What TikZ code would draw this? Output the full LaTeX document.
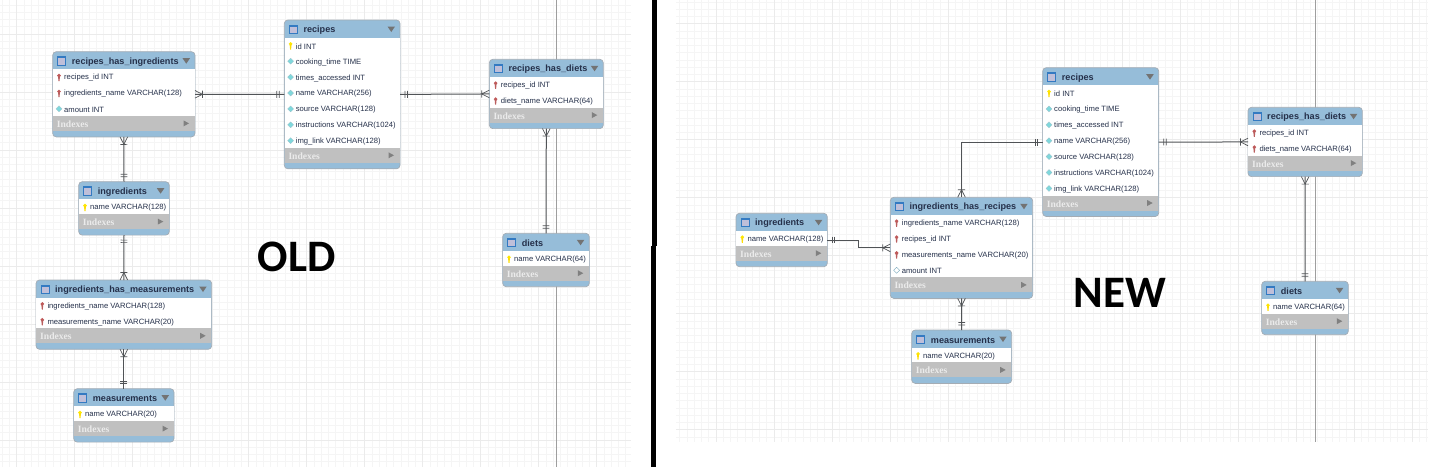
\documentclass[tikz,border=0pt]{standalone}
\usepackage{fontspec}
\setmainfont{Liberation Sans}
\newfontfamily\labelfont{Carlito}
\newfontfamily\idxfont{Liberation Serif}
\usetikzlibrary{decorations.markings}
\definecolor{tabblue}{HTML}{96BDD9}
\definecolor{tabgrey}{HTML}{C0C0C0}
\definecolor{tabedge}{HTML}{A4ACB4}
\definecolor{rowtext}{HTML}{25304A}
\definecolor{connline}{HTML}{505356}
\definecolor{colcyan}{HTML}{7FD8DC}
\tikzset{
 gridminor/.style={draw=black!4,line width=.7pt},
 gridmajor/.style={draw=black!8,line width=.8pt},
 tablebox/.style={draw=tabedge,fill=tabblue,rounded corners=3.5pt,inner sep=0,outer sep=0,anchor=north west,line width=.7pt},
 tabletitle/.style={inner sep=0,anchor=west,font=\bfseries\fontsize{9.1}{10}\selectfont,text=rowtext},
 tablerow/.style={inner sep=0,anchor=west,font=\fontsize{7.65}{10}\selectfont,text=rowtext},
 tableidx/.style={inner sep=0,anchor=west,font=\idxfont\bfseries\fontsize{9.6}{10}\selectfont,text=white!92!black},
 conn/.style={draw=connline,line width=1pt},
 tickmark/.style={draw=connline,line width=.7pt},
 onestart/.style={postaction={decorate,decoration={markings,
   mark=at position 5pt with {\draw[tickmark] (0,-3.4)--(0,3.4);},
   mark=at position 7.5pt with {\draw[tickmark] (0,-3.4)--(0,3.4);}}}},
 oneend/.style={postaction={decorate,decoration={markings,
   mark=at position -5pt with {\draw[tickmark] (0,-3.4)--(0,3.4);},
   mark=at position -7.5pt with {\draw[tickmark] (0,-3.4)--(0,3.4);}}}},
 manystart/.style={postaction={decorate,decoration={markings,
   mark=at position 7.5pt with {\draw[tickmark] (0,-3.6)--(0,3.6) (-7.5,-3.8)--(0,0)--(-7.5,3.8);}}}},
 manyend/.style={postaction={decorate,decoration={markings,
   mark=at position -7.5pt with {\draw[tickmark] (0,-3.6)--(0,3.6) (7.5,-3.8)--(0,0)--(7.5,3.8);}}}},
 pics/pk/.style={code={\fill[yellow!90!orange] (0,-2.4) circle (1.9); \fill[yellow!80!orange] (-1,-2)--(1,-2)--(.5,3.2)--(-.5,3.2)--cycle;}},
 pics/fk/.style={code={\fill[red!45!gray!90!white] (0,-2.4) circle (1.9); \fill[red!40!gray!90!white] (-1,-2)--(1,-2)--(.5,3.2)--(-.5,3.2)--cycle;}},
 pics/col/.style={code={\fill[colcyan,draw=cyan!30!gray!70!white,line width=.2pt] (-3,-1)--(0,-4)--(3,-1)--(0,2)--cycle;}},
 pics/nul/.style={code={\draw[cyan!40!gray,fill=white,line width=.4pt] (-3,-1)--(0,-4)--(3,-1)--(0,2)--cycle;}},
}
% name, x, y, width, rows, title, row list
\newcommand{\erdtable}[7]{
 \begin{scope}[shift={(#2,#3)}]
  \pgfmathsetmacro\tabh{37.5+15.9*#5}
  \pgfmathsetmacro\rowsend{16.5+15.9*#5}
  \node[tablebox,minimum width=#4pt,minimum height=\tabh pt] (#1) at (0,0) {};
  \fill[white] (.4,17.5) rectangle (#4-.4,\rowsend);
  \fill[tabgrey] (.4,\rowsend) rectangle (#4-.4,\rowsend+15);
  \fill[blue!50!cyan!70!black!80!white] (4.5,4.5) rectangle +(9,9.5);
  \fill[blue!12!white!85!black] (5.5,6.5) rectangle +(7,6.5);
  \node[tabletitle] (#1-title) at (19,10.3) {#6};
  \fill[black!55] (#4-12.5,6.5)--(#4-5,6.5)--(#4-8.7,12)--cycle;
  \foreach \kind/\txt [count=\i] in {#7} {
   \pgfmathsetmacro\rowy{26.3+15.9*(\i-1)}
   \pic at (6.3,\rowy) {\kind};
   \node[tablerow] (#1-r\i) at (11.3,\rowy) {\txt};
  }
  \node[tableidx] (#1-idx) at (4,\rowsend+8.3) {Indexes};
  \fill[black!50] (#4-11.5,\rowsend+4.5)--(#4-11.5,\rowsend+10.5)--(#4-6,\rowsend+7.5)--cycle;
 \end{scope}
}
\begin{document}
\begin{tikzpicture}[x=1pt,y=-1pt]
 \useasboundingbox (0,0) rectangle (1440,467);
 % canvas grids
 \begin{scope}[shift={(16.7,34)}]
  \draw[gridminor,step=7.25pt] (-16.7,-34) grid (614.3,433);
  \draw[gridmajor,step=58pt] (-16.7,-34) grid (614.3,433);
 \end{scope}
 \begin{scope}[shift={(20,23.7)}]
  \draw[gridminor,step=7.25pt] (656,-23.7) grid (1408,418);
  \draw[gridmajor,step=58pt] (656,-23.7) grid (1408,418);
 \end{scope}
 % page breaks
 \draw[black!38,line width=.9pt] (556.7,0)--(556.7,467);
 \draw[black!38,line width=.9pt] (1315.3,0)--(1315.3,441.7);
 % divider
 \fill[black] (651.7,0) rectangle (656.7,246);
 \fill[black] (651,246) rectangle (656,467);
 % old schema
 \erdtable{oldrecipes}{284.3}{20}{115.7}{7}{recipes}{pk/id INT,col/cooking\_time TIME,col/times\_accessed INT,col/name VARCHAR(256),col/source VARCHAR(128),col/instructions VARCHAR(1024),col/img\_link VARCHAR(128)}
 \erdtable{oldhasingr}{52.7}{51.7}{142.3}{3}{recipes\_has\_ingredients}{fk/recipes\_id INT,fk/ingredients\_name VARCHAR(128),col/amount INT}
 \erdtable{oldingr}{78.7}{181.7}{90.6}{1}{ingredients}{pk/name VARCHAR(128)}
 \erdtable{oldhasmeas}{36}{280}{175.7}{2}{ingredients\_has\_measurements}{fk/ingredients\_name VARCHAR(128),fk/measurements\_name VARCHAR(20)}
 \erdtable{oldmeas}{73.7}{388.7}{100.3}{1}{measurements}{pk/name VARCHAR(20)}
 \erdtable{oldhasdiets}{489.3}{59.3}{114}{2}{recipes\_has\_diets}{fk/recipes\_id INT,fk/diets\_name VARCHAR(64)}
 \erdtable{olddiets}{502.7}{233.3}{86.6}{1}{diets}{pk/name VARCHAR(64)}
 % new schema
 \erdtable{newrecipes}{1042.7}{67.7}{116}{7}{recipes}{pk/id INT,col/cooking\_time TIME,col/times\_accessed INT,col/name VARCHAR(256),col/source VARCHAR(128),col/instructions VARCHAR(1024),col/img\_link VARCHAR(128)}
 \erdtable{newingr}{736}{213.3}{91.3}{1}{ingredients}{pk/name VARCHAR(128)}
 \erdtable{newhasrec}{890.3}{197.3}{142.4}{4}{ingredients\_has\_recipes}{fk/ingredients\_name VARCHAR(128),fk/recipes\_id INT,fk/measurements\_name VARCHAR(20),nul/amount INT}
 \erdtable{newmeas}{911.7}{330}{100}{1}{measurements}{pk/name VARCHAR(20)}
 \erdtable{newhasdiets}{1248}{107.3}{114.3}{2}{recipes\_has\_diets}{fk/recipes\_id INT,fk/diets\_name VARCHAR(64)}
 \erdtable{newdiets}{1261.7}{281.3}{86.6}{1}{diets}{pk/name VARCHAR(64)}
 % relations
 \draw[conn,manystart,oneend] (oldhasingr.east)--(oldrecipes.west);
 \draw[conn,manystart,oneend] (oldhasingr.south)--(oldingr.north);
 \draw[conn,onestart,manyend] (oldingr.south)--(oldhasmeas.north);
 \draw[conn,manystart,oneend] (oldhasmeas.south)--(oldmeas.north);
 \draw[conn,onestart,manyend] (oldrecipes.east)--(oldhasdiets.west);
 \draw[conn,manystart,oneend] (oldhasdiets.south)--(olddiets.north);
 \draw[conn,onestart,manyend] (newrecipes.west) -| (newhasrec.north);
 \draw[conn,onestart,manyend] (newingr.east) -- ++(31.5,0) |- (newhasrec.west);
 \draw[conn,manystart,oneend] (newhasrec.south)--(newmeas.north);
 \draw[conn,onestart,manyend] (newrecipes.east)--(newhasdiets.west);
 \draw[conn,manystart,oneend] (newhasdiets.south)--(newdiets.north);
 % captions
 \node[font=\labelfont\bfseries\fontsize{45}{50}\selectfont] (oldcaption) at (296.7,256.7) {OLD};
 \node[font=\labelfont\bfseries\fontsize{45}{50}\selectfont] (newcaption) at (1120,293.3) {NEW};
\end{tikzpicture}
\end{document}
